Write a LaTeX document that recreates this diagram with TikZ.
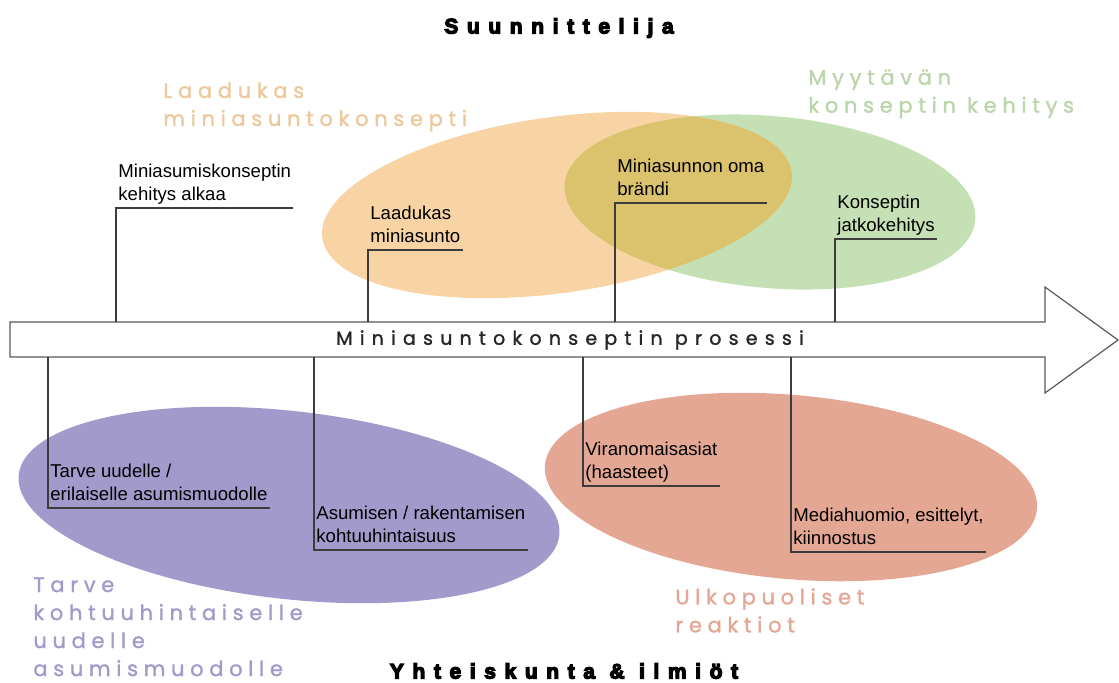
\documentclass[tikz,border=0pt]{standalone}
\usepackage{fontspec}
\setmainfont{Liberation Sans}
\newfontfamily\headfont[LetterSpace=27,FakeBold=1.3]{Poppins}
\newfontfamily\procfont[LetterSpace=38,FakeBold=1.3]{Poppins}
\newfontfamily\blackfont[LetterSpace=41,FakeBold=6]{Liberation Sans Bold}
\definecolor{orangefill}{RGB}{248,211,163}
\definecolor{greenfill}{RGB}{197,224,180}
\definecolor{overlapfill}{RGB}{219,194,108}
\definecolor{purplefill}{RGB}{162,154,203}
\definecolor{salmonfill}{RGB}{228,167,148}
\definecolor{linegray}{RGB}{60,60,60}
\tikzset{
  lbl/.style={font=\fontsize{9.3}{11.5}\selectfont, align=left, anchor=south west, inner xsep=1pt, inner ysep=1.5pt, text depth=2pt},
  leader/.style={draw=linegray, line width=0.6pt},
  head/.style={font=\headfont\fontsize{10.5}{14}\selectfont, align=left, anchor=north west, inner sep=0pt},
  title/.style={font=\blackfont\fontsize{10.5}{12}\selectfont, inner sep=0pt}
}
\begin{document}
\begin{tikzpicture}[x=0.5pt,y=0.5pt,line join=miter]
\useasboundingbox (0,0) rectangle (1119,-682);
% ellipses
\fill[orangefill, rotate around={8:(557,-205)}] (557,-205) ellipse [x radius=237, y radius=88];
\fill[greenfill, rotate around={-5:(770,-202)}] (770,-202) ellipse [x radius=206, y radius=86];
\begin{scope}
\clip[rotate around={8:(557,-205)}] (557,-205) ellipse [x radius=237, y radius=88];
\fill[overlapfill, rotate around={-5:(770,-202)}] (770,-202) ellipse [x radius=206, y radius=86];
\end{scope}
\fill[purplefill, rotate around={-6.4:(289,-505)}] (289,-505) ellipse [x radius=272, y radius=94];
\fill[salmonfill, rotate around={-5.1:(791,-487)}] (791,-487) ellipse [x radius=247, y radius=92];
% process arrow
\draw[draw=black!65, fill=white, line width=0.6pt] (10,-322) -- (1045,-322) -- (1045,-287) -- (1118,-340) -- (1045,-393) -- (1045,-357) -- (10,-357) -- cycle;
\coordinate (atop) at (0,-322);
\coordinate (abot) at (0,-357);
\node[font=\procfont\fontsize{9.5}{11}\selectfont, text=black!85, inner sep=0pt] (proc) at (570,-340) {Miniasuntokonseptin prosessi};
% headings
\node[title] (suun) at (559,-28) {Suunnittelija};
\node[title] (yht) at (564,-671) {Yhteiskunta \& ilmiöt};
\node[head, text=orangefill!95!black] (hlaad) at (163,-82) {Laadukas\\miniasuntokonsepti};
\node[head, text=greenfill!95!black] (hmyyt) at (808,-69) {Myytävän\\konseptin kehitys};
\node[head, text=purplefill] (htarve) at (33,-577) {Tarve\\kohtuuhintaiselle\\uudelle\\asumismuodolle};
\node[head, text=salmonfill] (hulko) at (675,-588) {Ulkopuoliset\\reaktiot};
% labels above
\node[lbl] (kehitys) at (116,-208) {Miniasumiskonseptin\\kehitys alkaa};
\node[lbl] (laadukas) at (368,-250) {Laadukas\\miniasunto};
\node[lbl] (brandi) at (615,-203) {Miniasunnon oma\\brändi};
\node[lbl] (jatko) at (835,-239) {Konseptin\\jatkokehitys};
% labels below
\node[lbl] (tarve) at (48,-508) {Tarve uudelle /\\erilaiselle asumismuodolle};
\node[lbl] (asumisen) at (314,-550) {Asumisen / rakentamisen\\kohtuuhintaisuus};
\node[lbl] (viran) at (583,-486) {Viranomaisasiat\\(haasteet)};
\node[lbl] (media) at (791,-552) {Mediahuomio, esittelyt,\\kiinnostus};
% leaders
\draw[leader] (kehitys.south east) -- (kehitys.south west) -- (kehitys.south west |- atop);
\draw[leader] (laadukas.south east) -- (laadukas.south west) -- (laadukas.south west |- atop);
\draw[leader] (brandi.south east) -- (brandi.south west) -- (brandi.south west |- atop);
\draw[leader] (jatko.south east) -- (jatko.south west) -- (jatko.south west |- atop);
\draw[leader] (tarve.south east) -- (tarve.south west) -- (tarve.south west |- abot);
\draw[leader] (asumisen.south east) -- (asumisen.south west) -- (asumisen.south west |- abot);
\draw[leader] (viran.south east) -- (viran.south west) -- (viran.south west |- abot);
\draw[leader] (media.south east) -- (media.south west) -- (media.south west |- abot);
\end{tikzpicture}
\end{document}
